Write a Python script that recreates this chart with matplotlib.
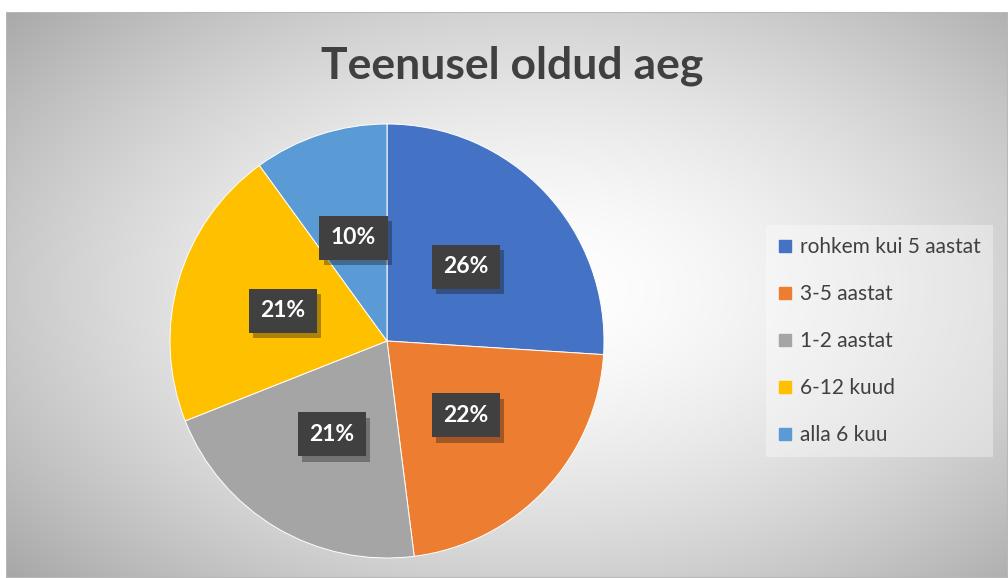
import numpy as np
import matplotlib.pyplot as plt
from matplotlib.lines import Line2D
from matplotlib.patches import Rectangle
import matplotlib.patheffects as pe

plt.rcParams['font.family'] = ['Lato', 'DejaVu Sans']

title = "Teenusel oldud aeg"
categories = ["rohkem kui 5 aastat", "3-5 aastat", "1-2 aastat", "6-12 kuud", "alla 6 kuu"]
shares = [26, 22, 21, 21, 10]
colors = ["#4472C4", "#ED7D31", "#A5A5A5", "#FFC000", "#5B9BD5"]
text_gray = "#404040"

W, H = 1008, 578
fig = plt.figure(figsize=(W / 100, H / 100), dpi=100)
fig.patch.set_facecolor("white")

# chart area with radial gray gradient
bx0, by_top = 6, 12
bg = fig.add_axes([bx0 / W, 0, 1 - bx0 / W, (H - by_top) / H])
gw, gh = W - bx0, H - by_top
yy, xx = np.mgrid[0:gh, 0:gw]
cx, cy = 540 - bx0, 290 - by_top
d = np.sqrt(((xx - cx) / 560.0) ** 2 + ((yy - cy) / 330.0) ** 2)
val = 1.0 - 0.23 * np.clip(d, 0, 1.3) ** 1.6
bg.imshow(np.dstack([val] * 3), aspect="auto", extent=(0, gw, gh, 0))
bg.set_xlim(0, gw)
bg.set_ylim(gh, 0)
bg.axis("off")
bg.add_patch(Rectangle((0, 0), gw, gh, fill=False, edgecolor="#b8b8b8", lw=1.5))

fig.text(512 / W, 1 - 66 / H, title, ha="center", va="center",
         fontsize=32, fontweight="bold", color=text_gray)

# pie
pcx, pcy, r = 387, 341, 217
ax = fig.add_axes([(pcx - r) / W, (H - pcy - r) / H, 2 * r / W, 2 * r / H])
wedges, texts, autotexts = ax.pie(
    shares, colors=colors, startangle=90, counterclock=False,
    autopct="%1.0f%%", pctdistance=0.5, radius=1,
    wedgeprops=dict(edgecolor="white", linewidth=0.7),
    textprops=dict(color="white", fontsize=16.5, fontweight="bold"))
for t in autotexts:
    t.set_bbox(dict(boxstyle="square,pad=0.5", facecolor="#404040", edgecolor="none"))
    t.get_bbox_patch().set_path_effects(
        [pe.SimplePatchShadow(offset=(3, -4), alpha=0.35), pe.Normal()])
ax.set_xlim(-1, 1)
ax.set_ylim(-1, 1)
ax.set_aspect("equal")
ax.axis("off")

# legend
handles = [Line2D([], [], marker="s", linestyle="none", markersize=9,
                  markerfacecolor=c, markeredgecolor=c) for c in colors]
leg = fig.legend(handles, categories, loc="center left",
                 bbox_to_anchor=(766 / W, 1 - 341 / H),
                 fontsize=15, labelcolor=text_gray, frameon=True,
                 fancybox=False, labelspacing=1.3, handlelength=0.75,
                 handletextpad=0.35, borderpad=0.55, borderaxespad=0)
leg.get_frame().set_facecolor("white")
leg.get_frame().set_alpha(0.35)
leg.get_frame().set_edgecolor("none")

fig.savefig("out.png", dpi=100)
